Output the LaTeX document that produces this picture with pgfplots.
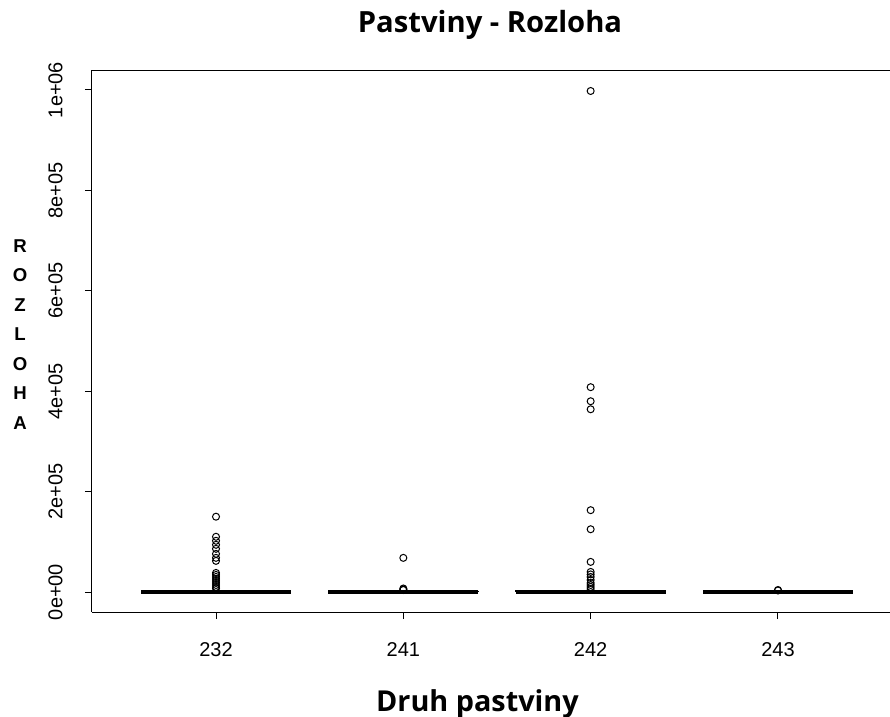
\documentclass[border=0pt]{standalone}
\usepackage{fontspec}
\setmainfont{Liberation Sans}
\newfontfamily\osans{Open Sans}
\usepackage{pgfplots}
\pgfplotsset{compat=1.18}

% 1 px of the reference = 0.5pt; values in thousands
\pgfplotsset{
  edge/.style={black, line width=0.5pt, mark=none},
  med/.style={black, line width=2pt, mark=none},
  outl/.style={black, only marks, mark=o, mark size=1.75pt,
    mark options={solid, black, line width=0.5pt}},
}

\begin{document}
\begin{tikzpicture}
\useasboundingbox (0,0) rectangle (445pt,-358.5pt);
\clip (0,0) rectangle (445pt,-358.5pt);

\begin{axis}[
  at={(46pt,-306pt)}, anchor=south west,
  scale only axis, width=399pt, height=271pt,
  xmin=0.338, xmax=4.598,
  ymin=-39.84, ymax=1039.8,
  axis x line*=bottom, axis y line*=left,
  axis line style={black, line width=0.5pt},
  extra description/.code={
    \draw[black, line width=0.5pt] (0,1) -- (1,1);
  },
  tick align=outside, major tick length=3.5pt,
  tick style={black, line width=0.5pt},
  xtick={1,2,3,4}, xticklabels={232,241,242,243},
  ytick={0,200,400,600,800,1000},
  yticklabels={0e+00,2e+05,4e+05,6e+05,8e+05,1e+06},
  xticklabel style={anchor=north, inner sep=0pt, yshift=-11.5pt, font=\fontsize{10}{12}\selectfont},
  yticklabel style={anchor=south, inner sep=0pt, xshift=-11pt, rotate=90, font=\fontsize{10}{12}\selectfont},
]
% boxes (q1..q3) and medians
\addplot[edge] coordinates {(0.6,0.3) (1.4,0.3) (1.4,2.5) (0.6,2.5) (0.6,0.3)};
\addplot[med]  coordinates {(0.6,1) (1.4,1)};
\addplot[edge] coordinates {(1.6,0.2) (2.4,0.2) (2.4,1.8) (1.6,1.8) (1.6,0.2)};
\addplot[med]  coordinates {(1.6,0.8) (2.4,0.8)};
\addplot[edge] coordinates {(2.6,0.3) (3.4,0.3) (3.4,2.5) (2.6,2.5) (2.6,0.3)};
\addplot[med]  coordinates {(2.6,1) (3.4,1)};
\addplot[edge] coordinates {(3.6,0.2) (4.4,0.2) (4.4,1.5) (3.6,1.5) (3.6,0.2)};
\addplot[med]  coordinates {(3.6,0.7) (4.4,0.7)};
% outliers
\addplot[outl] coordinates {(1,150) (1,110) (1,102) (1,94) (1,86) (1,76) (1,68) (1,62)
  (1,38) (1,34) (1,30) (1,26) (1,22) (1,18) (1,14) (1,10) (1,7)};
\addplot[outl] coordinates {(2,68) (2,7) (2,5) (2,4)};
\addplot[outl] coordinates {(3,998) (3,408) (3,380) (3,364) (3,163) (3,125) (3,60)
  (3,40) (3,35) (3,30) (3,24) (3,18) (3,14) (3,10) (3,6)};
\addplot[outl] coordinates {(4,4) (4,3)};
\end{axis}

% title and axis labels
\node[anchor=base, inner sep=0pt, font=\osans\bfseries\fontsize{14.6}{17}\selectfont]
  at (245pt,-16.5pt) {Pastviny - Rozloha};
\node[anchor=base, inner sep=0pt, font=\osans\bfseries\fontsize{14.4}{17}\selectfont]
  at (238.75pt,-355.5pt) {Druh pastviny};
\node[anchor=north, inner sep=0pt, align=center,
  font=\bfseries\fontsize{9.3}{14.75}\selectfont]
  at (10pt,-119.5pt) {R\\O\\Z\\L\\O\\H\\A};
\end{tikzpicture}
\end{document}
